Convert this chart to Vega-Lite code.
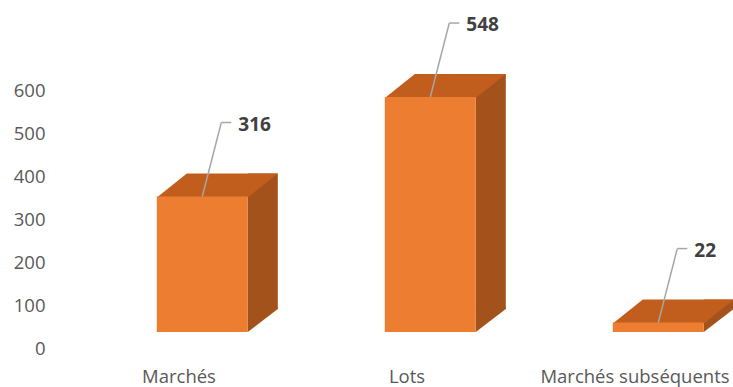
{
  "$schema": "https://vega.github.io/schema/vega-lite/v6.json",
  "width": 684,
  "height": 343,
  "autosize": "none",
  "padding": {"left": 49, "top": 5, "right": 0, "bottom": 39},
  "background": "white",
  "config": {"view": {"stroke": null}},
  "data": {
    "values": [
      {"categorie": "Marchés", "valeur": 316},
      {"categorie": "Lots", "valeur": 548},
      {"categorie": "Marchés subséquents", "valeur": 22}
    ]
  },
  "encoding": {
    "x": {
      "field": "categorie",
      "type": "nominal",
      "sort": null,
      "scale": {"paddingInner": 0, "paddingOuter": 0},
      "axis": {
        "title": null,
        "labelAngle": 0,
        "domain": false,
        "ticks": false,
        "tickSize": 0,
        "labelOffset": 16,
        "labelPadding": 34,
        "labelBaseline": "alphabetic",
        "labelFont": "Open Sans",
        "labelFontSize": 18.5,
        "labelColor": "#595959",
        "labelLimit": 0
      }
    }
  },
  "layer": [
    {
      "mark": {"type": "bar", "width": 30, "xOffset": 99.8, "yOffset": -39, "y2Offset": -39, "color": "#A3521B"},
      "encoding": {
        "y": {
          "field": "valeur",
          "type": "quantitative",
          "scale": {"domain": [0, 800], "nice": false},
          "axis": {
            "title": null,
            "values": [0, 100, 200, 300, 400, 500, 600],
            "grid": false,
            "domain": false,
            "ticks": false,
            "tickSize": 0,
            "labelPadding": 4,
            "labelFont": "Open Sans",
            "labelFontSize": 18.5,
            "labelColor": "#595959"
          }
        }
      }
    },
    {
      "mark": {"type": "point", "shape": "M0,-0.05L0,0.767L1,0L1,-0.05Z", "size": 3600, "filled": true, "opacity": 1, "strokeWidth": 0, "color": "#A3521B", "xOffset": 84.8, "yOffset": -39},
      "encoding": {"y": {"datum": 0, "type": "quantitative"}}
    },
    {
      "mark": {"type": "point", "shape": "M0,0.03L3.0333,0.03L4.0333,-0.767L1,-0.767Z", "size": 3600, "filled": true, "opacity": 1, "strokeWidth": 0, "color": "#C15E1D", "xOffset": -6.2, "yOffset": -16},
      "encoding": {"y": {"field": "valeur", "type": "quantitative"}}
    },
    {
      "mark": {"type": "bar", "width": 91, "xOffset": 39.3, "yOffset": -16, "y2Offset": -16, "color": "#ED7D31"},
      "encoding": {"y": {"field": "valeur", "type": "quantitative"}}
    },
    {
      "mark": {"type": "rule", "color": "#A6A6A6", "strokeWidth": 1.5, "xOffset": 39.3, "x2Offset": 58.3, "yOffset": -16, "y2Offset": -90},
      "encoding": {
        "x2": {"field": "categorie"},
        "y": {"field": "valeur", "type": "quantitative"},
        "y2": {"field": "valeur"}
      }
    },
    {
      "mark": {"type": "rule", "color": "#A6A6A6", "strokeWidth": 1.5, "xOffset": 58.3, "x2Offset": 68.3, "yOffset": -90, "y2Offset": -90},
      "encoding": {
        "x2": {"field": "categorie"},
        "y": {"field": "valeur", "type": "quantitative"},
        "y2": {"field": "valeur"}
      }
    },
    {
      "mark": {"type": "text", "align": "left", "baseline": "middle", "xOffset": 75.3, "yOffset": -88, "font": "Open Sans", "fontSize": 19, "fontWeight": "bold", "color": "#404040"},
      "encoding": {
        "y": {"field": "valeur", "type": "quantitative"},
        "text": {"field": "valeur", "type": "quantitative"}
      }
    }
  ]
}
